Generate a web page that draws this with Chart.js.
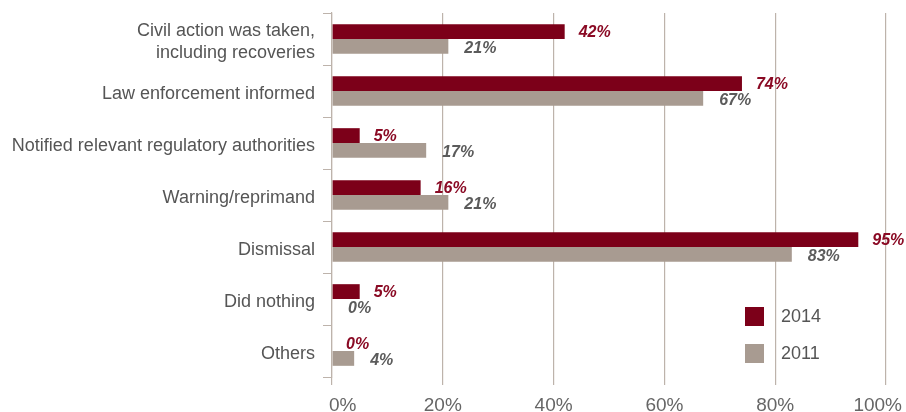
<!DOCTYPE html>
<html>
<head>
<meta charset="utf-8">
<script src="https://cdn.jsdelivr.net/npm/chart.js@4/dist/chart.umd.min.js"></script>
<style>
  html, body { margin: 0; padding: 0; background: #fff; }
  #wrap { width: 906px; height: 412px; position: relative; }
</style>
</head>
<body>
<div id="wrap"><canvas id="acciones"></canvas></div>
<script>
// Categorias y valores (%)
const categorias = [
    ['Civil action was taken,', 'including recoveries'],
    'Law enforcement informed',
    'Notified relevant regulatory authorities',
    'Warning/reprimand',
    'Dismissal',
    'Did nothing',
    'Others'
];
const valores2014 = [42, 74, 5, 16, 95, 5, 0];
const valores2011 = [21, 67, 17, 21, 83, 0, 4];
const ticksX = [0, 20, 40, 60, 80, 100];

const ROJO = '#7c0019';
const GRIS = '#a89b91';
const LINEA = '#bdb3ab';
const FUENTE = '"Liberation Sans", Arial, Helvetica, sans-serif';

// Etiquetas de valor al final de cada barra
const etiquetasValor = {
    id: 'etiquetasValor',
    afterDatasetsDraw(chart) {
        const ctx = chart.ctx;
        ctx.save();
        ctx.font = 'italic bold 16px ' + FUENTE;
        ctx.textAlign = 'left';
        ctx.textBaseline = 'middle';
        chart.data.datasets.forEach((ds, i) => {
            const meta = chart.getDatasetMeta(i);
            ctx.fillStyle = i === 0 ? '#8a0a24' : '#5b5b5b';
            meta.data.forEach((bar, j) => {
                const x = Math.max(bar.x, bar.base) + (i === 0 ? 14 : 16);
                ctx.fillText(ds.data[j] + '%', x, bar.y + (i === 0 ? 1 : 2));
            });
        });
        ctx.restore();
    }
};

// Etiquetas del eje X: la primera y la ultima quedan dentro del lienzo
const etiquetasX = {
    id: 'etiquetasX',
    afterDraw(chart) {
        const ctx = chart.ctx;
        const escala = chart.scales.x;
        ctx.save();
        ctx.font = '19px ' + FUENTE;
        ctx.fillStyle = '#666';
        ctx.textBaseline = 'alphabetic';
        ticksX.forEach((v, i) => {
            let x = escala.getPixelForValue(v);
            if (i === 0) { ctx.textAlign = 'left'; x -= 3; }
            else if (i === ticksX.length - 1) { ctx.textAlign = 'right'; x += 16; }
            else { ctx.textAlign = 'center'; }
            ctx.fillText(v + '%', x, chart.chartArea.bottom + 34);
        });
        ctx.restore();
    }
};

// Leyenda dentro del area del grafico
const leyenda = {
    id: 'leyenda',
    afterDraw(chart) {
        const ctx = chart.ctx;
        ctx.save();
        ctx.font = '18px ' + FUENTE;
        ctx.textBaseline = 'middle';
        chart.data.datasets.forEach((ds, i) => {
            const y = 307 + i * 37;
            ctx.fillStyle = ds.backgroundColor;
            ctx.fillRect(745, y, 19, 19);
            ctx.fillStyle = '#555';
            ctx.fillText(ds.label, 781, y + 10);
        });
        ctx.restore();
    }
};

new Chart(document.getElementById('acciones'), {
    type: 'bar',
    data: {
        labels: categorias,
        datasets: [
            { label: '2014', data: valores2014, backgroundColor: ROJO },
            { label: '2011', data: valores2011, backgroundColor: GRIS }
        ]
    },
    options: {
        indexAxis: 'y',
        responsive: true,
        maintainAspectRatio: false,
        animation: false,
        layout: { padding: { top: 13, right: 20, left: 0, bottom: 0 } },
        datasets: {
            bar: { categoryPercentage: 0.57, barPercentage: 1.0 }
        },
        plugins: {
            legend: { display: false },
            tooltip: { enabled: false }
        },
        scales: {
            x: {
                min: 0,
                max: 100,
                afterBuildTicks: axis => { axis.ticks = ticksX.map(v => ({ value: v })); },
                afterFit: axis => {
                    axis.height = 35;
                    axis.paddingLeft = 0;
                    axis.paddingRight = 0;
                },
                border: { display: false },
                grid: { color: LINEA, lineWidth: 1.2, drawTicks: true, tickLength: 8 },
                ticks: { display: false }
            },
            y: {
                afterFit: axis => {
                    axis.width = 332;
                    axis.paddingTop = 0;
                    axis.paddingBottom = 0;
                },
                border: { display: true, color: LINEA, width: 1.2 },
                grid: { drawOnChartArea: false, color: LINEA, tickLength: 9 },
                ticks: {
                    padding: 8,
                    labelOffset: 3,
                    color: '#555',
                    font: { family: FUENTE, size: 18, lineHeight: 1.22 }
                }
            }
        }
    },
    plugins: [etiquetasValor, etiquetasX, leyenda]
});
</script>
</body>
</html>
